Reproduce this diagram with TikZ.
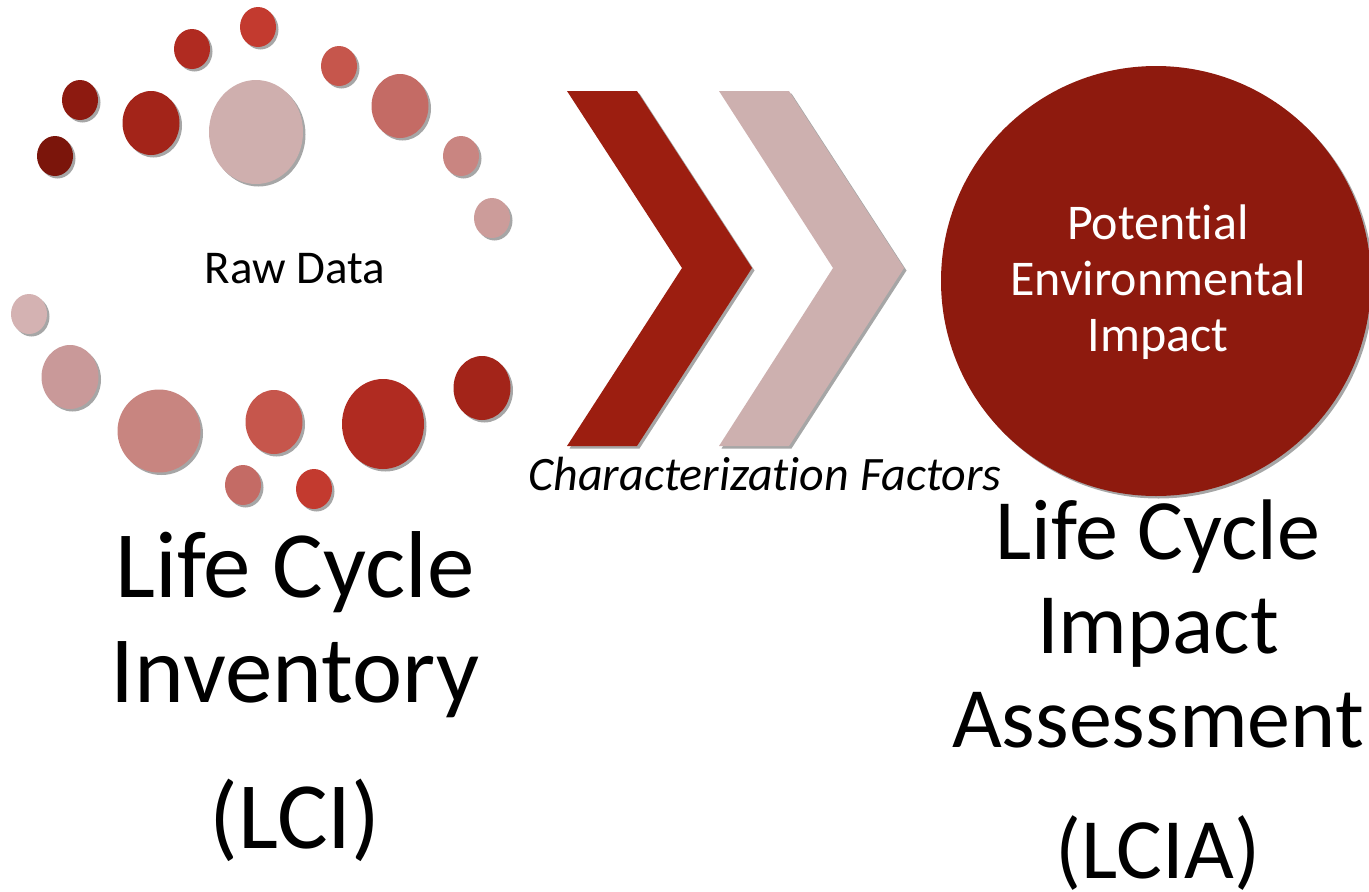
\documentclass[tikz,border=0pt]{standalone}
\usepackage{fontspec}
\setmainfont[Ligatures=NoCommon]{Carlito}
\usetikzlibrary{shapes.geometric,shadows}
\definecolor{c1}{HTML}{7B150B}
\definecolor{c2}{HTML}{8D1A10}
\definecolor{c3}{HTML}{A32419}
\definecolor{c4}{HTML}{B02B21}
\definecolor{c5}{HTML}{C33A2F}
\definecolor{c6}{HTML}{CFAFAE}
\definecolor{c7}{HTML}{C6564C}
\definecolor{c8}{HTML}{C46B65}
\definecolor{c9}{HTML}{C98581}
\definecolor{c10}{HTML}{CC9C9A}
\definecolor{c11}{HTML}{D4B2B2}
\definecolor{c12}{HTML}{C99999}
\definecolor{c13}{HTML}{C88580}
\definecolor{bigred}{HTML}{8E1A0E}
\definecolor{chevdark}{HTML}{9C1E10}
\definecolor{chevlight}{HTML}{CDB0AF}
\tikzset{
  shad/.style={drop shadow={shadow xshift=2.5pt, shadow yshift=-2.5pt, fill=black, opacity=0.35}},
  dot/.style={ellipse, inner sep=0pt, shad},
  sm/.style={dot, minimum width=36pt, minimum height=40pt},
  md/.style={dot, minimum width=57pt, minimum height=64pt},
}
\begin{document}
\begin{tikzpicture}[x=1pt,y=-1pt]
\useasboundingbox (0,0) rectangle (1369,892);
% circles of raw data
\node[sm, fill=c1] (d1) at (55,156) {};
\node[sm, fill=c2] (d2) at (80,100) {};
\node[md, fill=c3] (d3) at (151,123) {};
\node[sm, fill=c4] (d4) at (192,49) {};
\node[sm, fill=c5] (d5) at (258,27) {};
\node[dot, fill=c6, minimum width=94pt, minimum height=104pt] (d6) at (256,132) {};
\node[sm, fill=c7] (d7) at (339,66) {};
\node[md, fill=c8] (d8) at (400,106) {};
\node[sm, fill=c9] (d9) at (461,156) {};
\node[sm, fill=c10] (d10) at (492,218) {};
\node[sm, fill=c11] (d11) at (29,314) {};
\node[md, fill=c12] (d12) at (70,377) {};
\node[dot, fill=c13, minimum width=83pt, minimum height=83pt] (d13) at (159,431) {};
\node[md, fill=c7] (d14) at (274,422) {};
\node[sm, fill=c8] (d15) at (243,485) {};
\node[sm, fill=c5] (d16) at (314,489) {};
\node[dot, fill=c4, minimum width=82pt, minimum height=90pt] (d17) at (383,424) {};
\node[md, fill=c3] (d18) at (482,388) {};
\node[font=\fontsize{47}{56}\selectfont, anchor=base] (raw) at (295,283) {Raw Data};
% chevrons
\fill[chevdark, shad] (567,91) -- (637,91) -- (752,268) -- (637,446) -- (567,446) -- (682,268) -- cycle;
\fill[chevlight, shad] (719,91) -- (789,91) -- (904,268) -- (789,446) -- (719,446) -- (833,268) -- cycle;
% big circle
\node[circle, fill=bigred, minimum size=430pt, inner sep=0pt, shad] (big) at (1156,281) {};
\node[text=white, align=center, font=\fontsize{50}{56}\selectfont, anchor=base] (pei) at (1158,351) {Potential\\Environmental\\Impact};
\node[font=\fontsize{48}{56}\selectfont\itshape, anchor=base] (cf) at (765,490) {Characterization Factors};
\node[align=center, font=\fontsize{95}{105}\selectfont, anchor=base] (lci) at (295,848) {Life Cycle\\Inventory\\[41pt](LCI)};
\node[align=center, font=\fontsize{86}{94}\selectfont, anchor=base] (lcia) at (1158,878) {Life Cycle\\Impact\\Assessment\\[37pt](LCIA)};
\end{tikzpicture}
\end{document}
